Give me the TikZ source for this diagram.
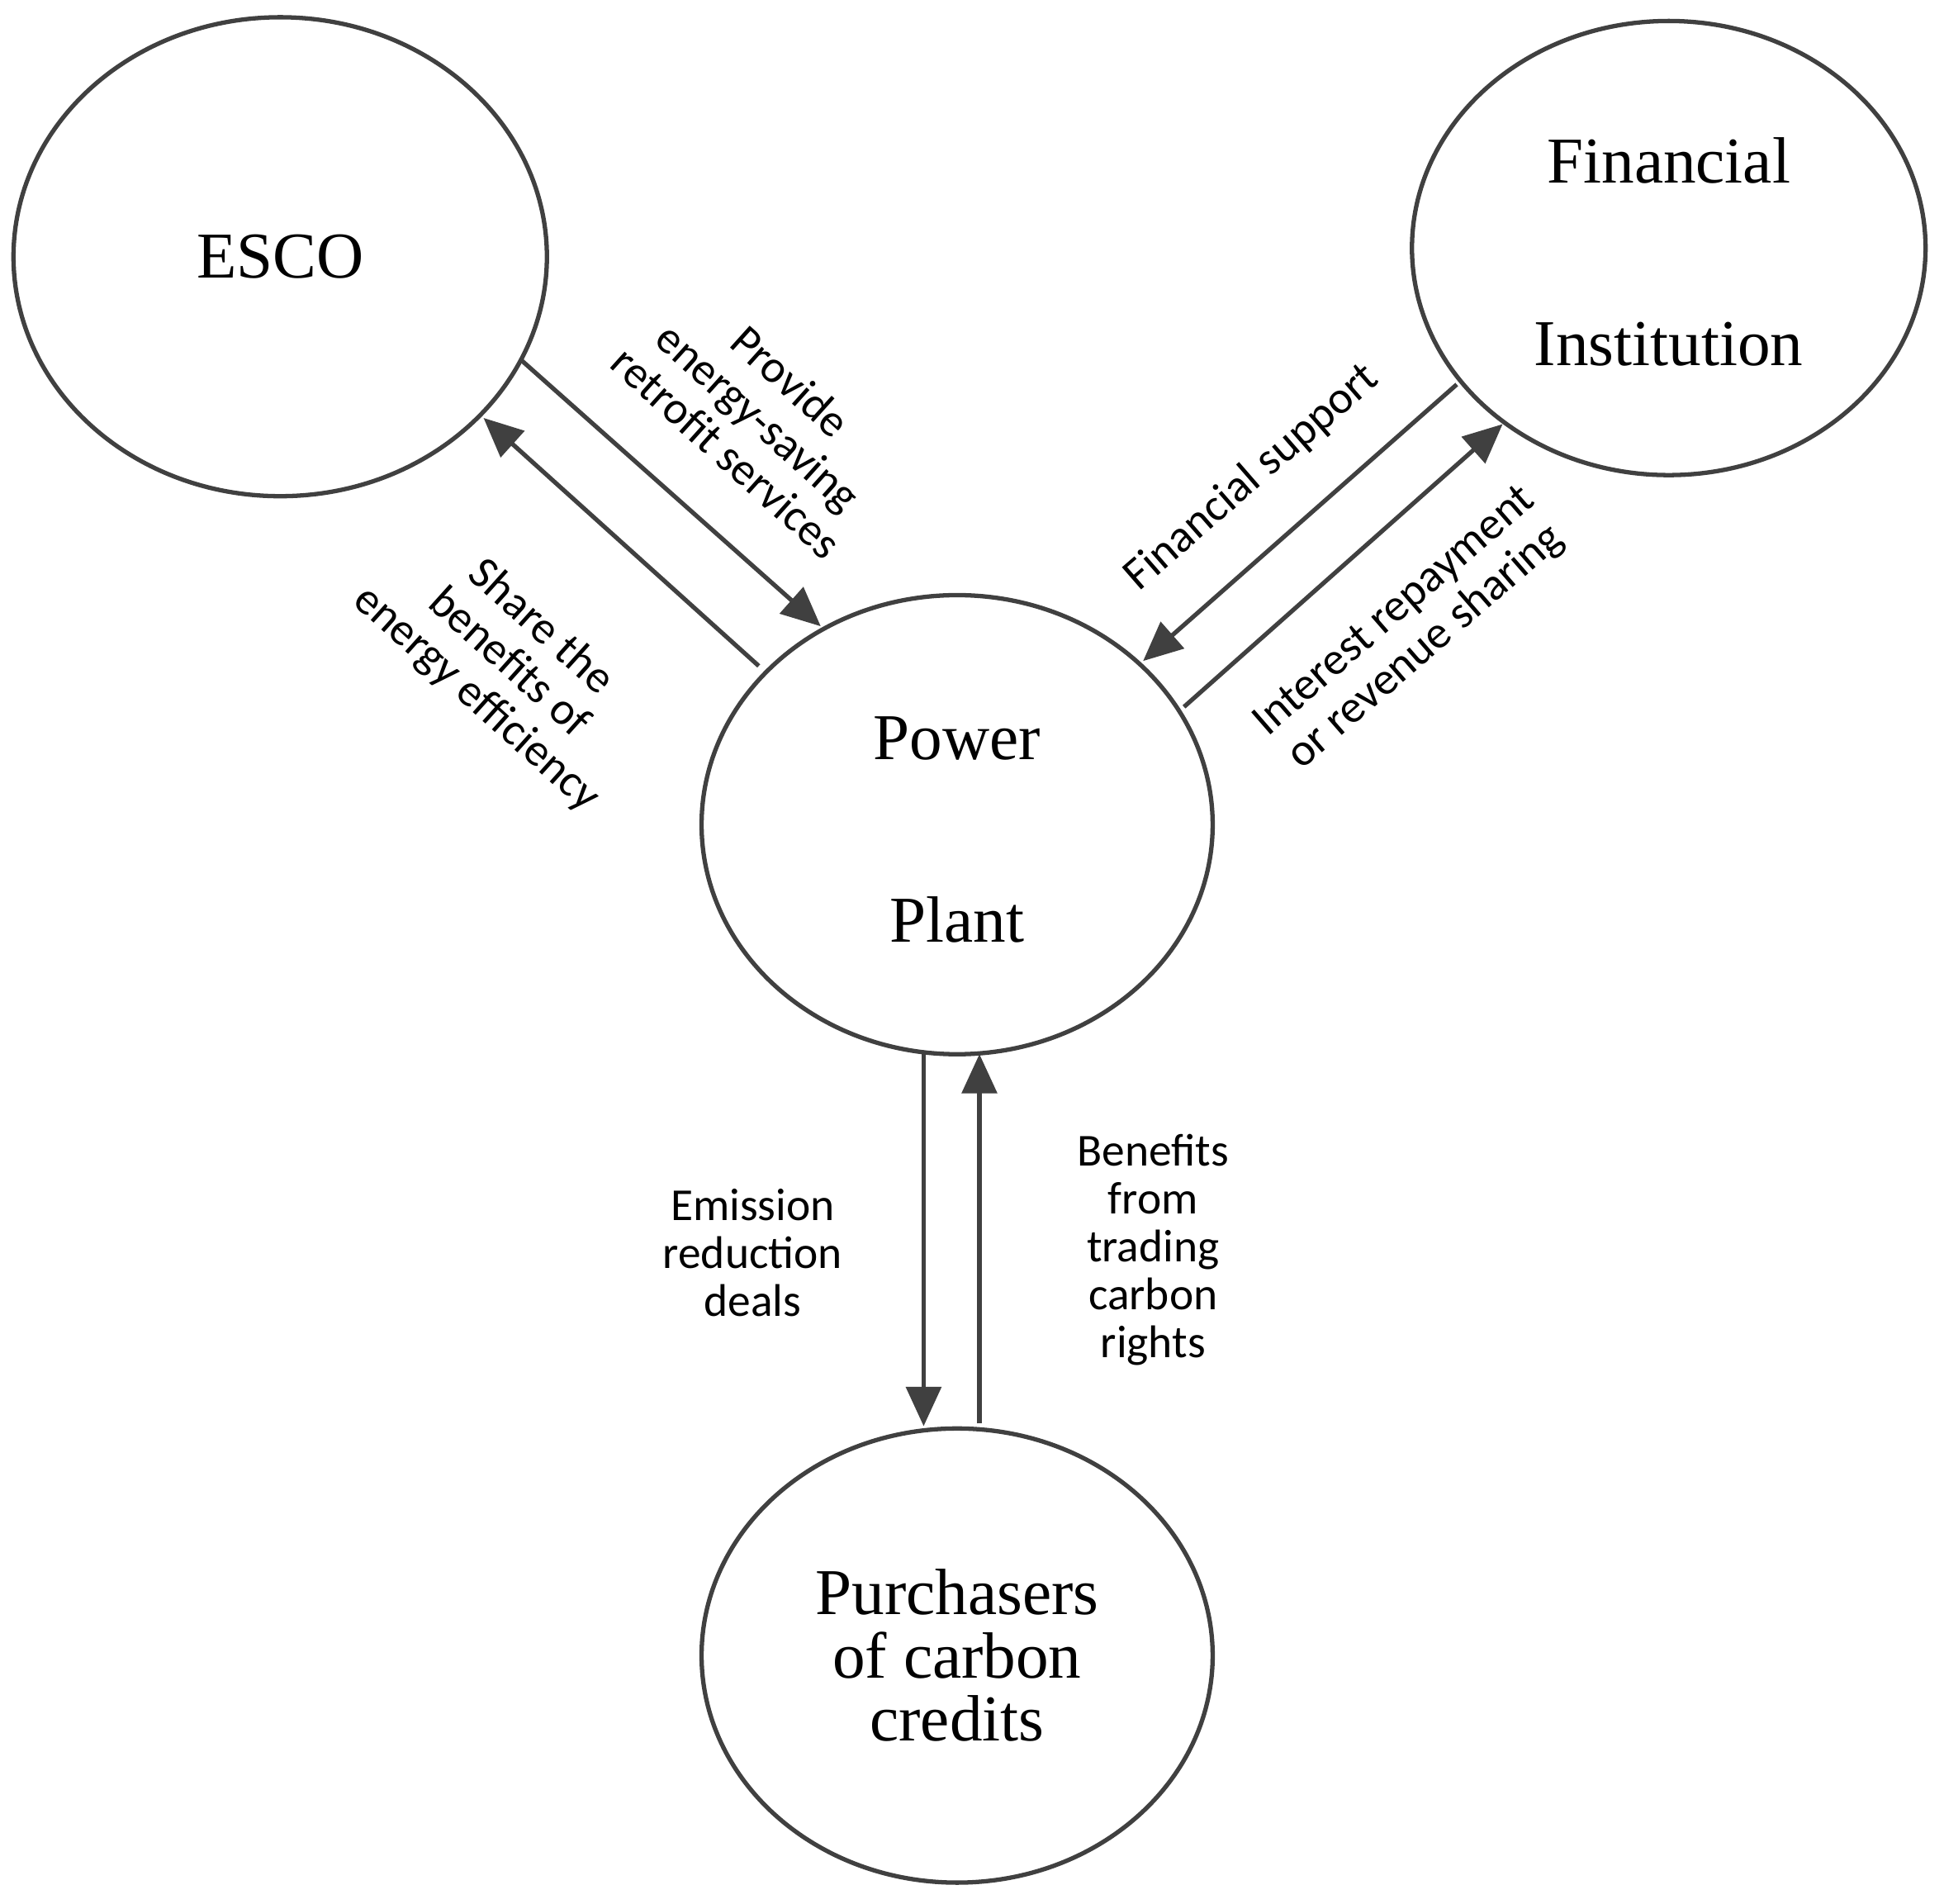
\documentclass[tikz,border=0pt]{standalone}
\usepackage{fontspec}
\setmainfont{Liberation Serif}
\newfontfamily\lblfont{Carlito}
\usetikzlibrary{arrows.meta, positioning, shapes.geometric}
\tikzset{
	party/.style={ellipse, draw=black!75, line width=1pt, align=center, inner sep=0pt, font=\fontsize{15}{30}\selectfont},
	flow/.style={draw=black!75, line width=1pt, -{Triangle[length=9pt,width=8pt]}},
	lbl/.style={align=center, font=\lblfont\fontsize{10.5}{11}\selectfont},
}
\begin{document}
\begin{tikzpicture}[x=0.01cm, y=-0.01cm]
    \useasboundingbox (0,0) rectangle (1568,1535);
    \node[party, minimum width=4.30cm, minimum height=3.86cm] (esco) at (226,207) {ESCO};
    \node[party, minimum width=4.14cm, minimum height=3.66cm] (fin) at (1346,200) {\raisebox{-12pt}{\begin{tabular}{@{}c@{}}Financial\\[12pt] Institution\end{tabular}}};
    \node[party, minimum width=4.12cm, minimum height=3.70cm] (plant) at (772,665) {\raisebox{-10pt}{\begin{tabular}{@{}c@{}}Power\\[12pt] Plant\end{tabular}}};
    \node[party, minimum width=4.12cm, minimum height=3.66cm, font=\fontsize{15}{14.5}\selectfont] (buyer) at (772,1335) {Purchasers\\ of carbon\\ credits};
    
    \coordinate (e1) at (420,290);  \coordinate (p1) at (662,505);
    \coordinate (p2) at (612,537);  \coordinate (e2) at (390,337);
    \coordinate (f1) at (1175,310); \coordinate (p3) at (922,533);
    \coordinate (p4) at (955,570);  \coordinate (f2) at (1212,342);
    \coordinate (p5) at (745,848);  \coordinate (b1) at (745,1150);
    \coordinate (b2) at (790,1148); \coordinate (p6) at (790,850);
    
    \draw[flow] (e1) -- (p1);
    \draw[flow] (p2) -- (e2);
    \draw[flow] (f1) -- (p3);
    \draw[flow] (p4) -- (f2);
    \draw[flow] (p5) -- (b1);
    \draw[flow] (b2) -- (p6);
    
    \node[lbl, rotate=-42] (provide) at (612,336) {Provide\\ energy-saving\\ retrofit services};
    \node[lbl, rotate=-42] (share) at (410,535) {Share the\\ benefits of\\ energy efficiency};
    \node[lbl, rotate=41] (support) at (1010,385) {Financial support};
    \node[lbl, rotate=41] (repay) at (1138,508) {Interest repayment\\ or revenue sharing};
    \node[lbl] (deals) at (607,1010) {Emission\\ reduction\\ deals};
    \node[lbl] (trade) at (930,1008) {Benefits\\ from\\ trading\\ carbon\\ rights};
\end{tikzpicture}
\end{document}
